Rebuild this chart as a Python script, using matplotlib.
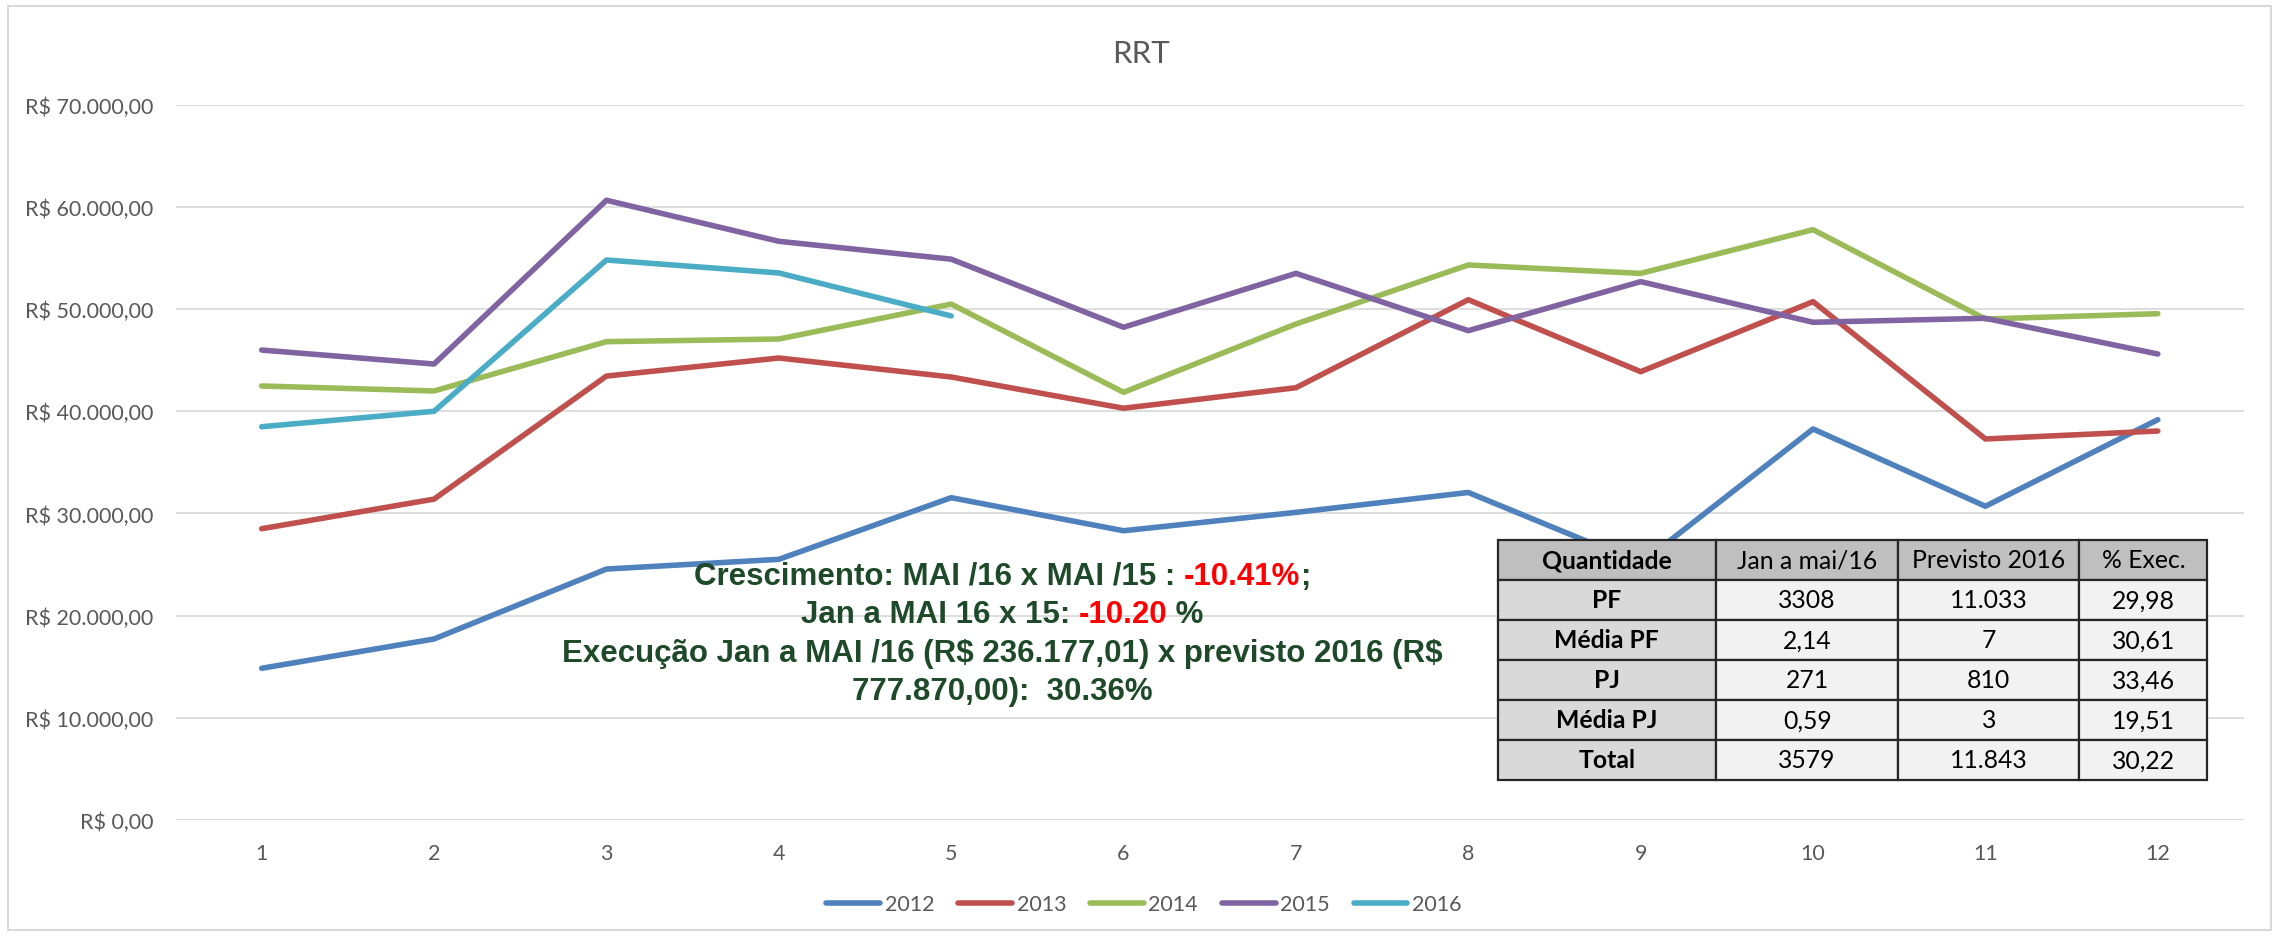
import matplotlib
matplotlib.use("Agg")
import matplotlib.pyplot as plt
from matplotlib.patches import Rectangle
from matplotlib.ticker import FuncFormatter, MultipleLocator
from matplotlib.transforms import IdentityTransform

# ---------------- data ----------------
months = list(range(1, 13))
month_labels = [str(m) for m in months]
s2012 = [14830, 17700, 24550, 25500, 31540, 28300, 30100, 32050, 25100, 38270, 30700, 39180]
s2013 = [28500, 31400, 43450, 45220, 43360, 40300, 42310, 50930, 43880, 50740, 37290, 38070]
s2014 = [42480, 41990, 46820, 47080, 50500, 41860, 48550, 54330, 53510, 57790, 49040, 49560]
s2015 = [46000, 44630, 60670, 56650, 54900, 48230, 53510, 47900, 52700, 48720, 49110, 45610]
s2016 = [38490, 40000, 54820, 53550, 49340]
series_names = ["2012", "2013", "2014", "2015", "2016"]
series_values = [s2012, s2013, s2014, s2015, s2016]
series_colors = ["#4F81BD", "#C0504D", "#9BBB59", "#8064A2", "#4BACC6"]

table_header = ["Quantidade", "Jan a mai/16", "Previsto 2016", "% Exec."]
table_rows = [
    ["PF", "3308", "11.033", "29,98"],
    ["Média PF", "2,14", "7", "30,61"],
    ["PJ", "271", "810", "33,46"],
    ["Média PJ", "0,59", "3", "19,51"],
    ["Total", "3579", "11.843", "30,22"],
]

GREEN = "#1E4A2A"
RED = "#FF0000"
note_lines = [
    [("Crescimento: MAI /16 x MAI /15 : ", GREEN), ("-10.41%", RED), (";", GREEN)],
    [("Jan a MAI 16 x 15: ", GREEN), ("-10.20", RED), (" %", GREEN)],
    [("Execução Jan a MAI /16 (R$ 236.177,01) x previsto 2016 (R$", GREEN)],
    [("777.870,00):  30.36%", GREEN)],
]

# ---------------- figure ----------------
W, H, DPI = 2280, 937, 100
fig = plt.figure(figsize=(W / DPI, H / DPI), dpi=DPI)
fig.patch.set_facecolor("white")
FONT = "Lato"
TXT_GRAY = "#595959"

# chart border
fig.add_artist(Rectangle((8 / W, 6 / H), (W - 17) / W, (H - 13) / H,
                         transform=fig.transFigure, fill=False,
                         edgecolor="#D9D9D9", linewidth=1.5))

ax = fig.add_axes([175.5 / W, 1 - 820.7 / H, (2244 - 175.5) / W, (820.7 - 106) / H])
for name, vals, col in zip(series_names, series_values, series_colors):
    ax.plot(months[:len(vals)], vals, color=col, linewidth=4.0, label=name,
            solid_capstyle="round", solid_joinstyle="round", zorder=3)

ax.set_xlim(0.5, 12.5)
ax.set_ylim(0, 70000)
ax.yaxis.set_major_locator(MultipleLocator(10000))
ax.set_xticks(months)
ax.set_xticklabels(month_labels)


def brl(v, pos=None):
    s = f"{v:,.2f}".replace(",", "#").replace(".", ",").replace("#", ".")
    return "R$ " + s


ax.yaxis.set_major_formatter(FuncFormatter(brl))
ax.grid(axis="y", color="#D9D9D9", linewidth=1.25, zorder=0)
ax.set_axisbelow(True)
for sp in ax.spines.values():
    sp.set_visible(False)
ax.tick_params(axis="both", length=0, colors=TXT_GRAY, labelsize=15.5)
ax.tick_params(axis="y", pad=16)
ax.tick_params(axis="x", pad=17)
for lab in ax.get_xticklabels() + ax.get_yticklabels():
    lab.set_fontfamily(FONT)

fig.text(1141 / W, 1 - 54 / H, "RRT", ha="center", va="center",
         fontsize=22.5, color=TXT_GRAY, family=FONT)

leg = fig.legend(loc="center", bbox_to_anchor=(1144 / W, 1 - 905.5 / H),
                 ncol=5, frameon=False, handlelength=2.5, handletextpad=0.22,
                 columnspacing=1.1, prop={"family": FONT, "size": 15.5})
for t in leg.get_texts():
    t.set_color(TXT_GRAY)

# ---------------- table ----------------
tax = fig.add_axes([1497.5 / W, 1 - 780.7 / H, (2207.4 - 1497.5) / W, (780.7 - 540.7) / H])
tax.axis("off")
cw = [218.6, 181.7, 181.3, 128.0]
tot = sum(cw)
tbl = tax.table(cellText=table_rows, colLabels=table_header, bbox=[0, 0, 1, 1],
                colWidths=[c / tot for c in cw], cellLoc="center")
tbl.auto_set_font_size(False)
for (r, c), cell in tbl.get_celld().items():
    cell.set_edgecolor("#262626")
    cell.set_linewidth(1.6)
    txt = cell.get_text()
    txt.set_fontsize(17.8)
    txt.set_fontfamily(FONT)
    txt.set_color("black")
    if r == 0:
        cell.set_facecolor("#BFBFBF")
        if c == 0:
            txt.set_fontweight("bold")
    elif c == 0:
        cell.set_facecolor("#D9D9D9")
        txt.set_fontweight("bold")
    else:
        cell.set_facecolor("#F2F2F2")

# ---------------- multi-coloured note ----------------
renderer = fig.canvas.get_renderer()
note_kw = dict(fontsize=22.5, fontweight="bold", family="Liberation Sans",
               parse_math=False)


def text_width(s):
    t = fig.text(0, 0, s + "l", transform=IdentityTransform(), **note_kw)
    t2 = fig.text(0, 0, "l", transform=IdentityTransform(), **note_kw)
    w = t.get_window_extent(renderer).width - t2.get_window_extent(renderer).width
    t.remove()
    t2.remove()
    return w


center_x = 1002
baselines = [585, 623.3, 661.7, 700]
for pieces, base in zip(note_lines, baselines):
    widths = [text_width(s) for s, _ in pieces]
    x = center_x - sum(widths) / 2
    for (s, col), w in zip(pieces, widths):
        fig.text(x, H - base, s, color=col, ha="left", va="baseline",
                 transform=IdentityTransform(), zorder=5, **note_kw)
        x += w

fig.savefig("out.png", dpi=DPI, facecolor="white")
